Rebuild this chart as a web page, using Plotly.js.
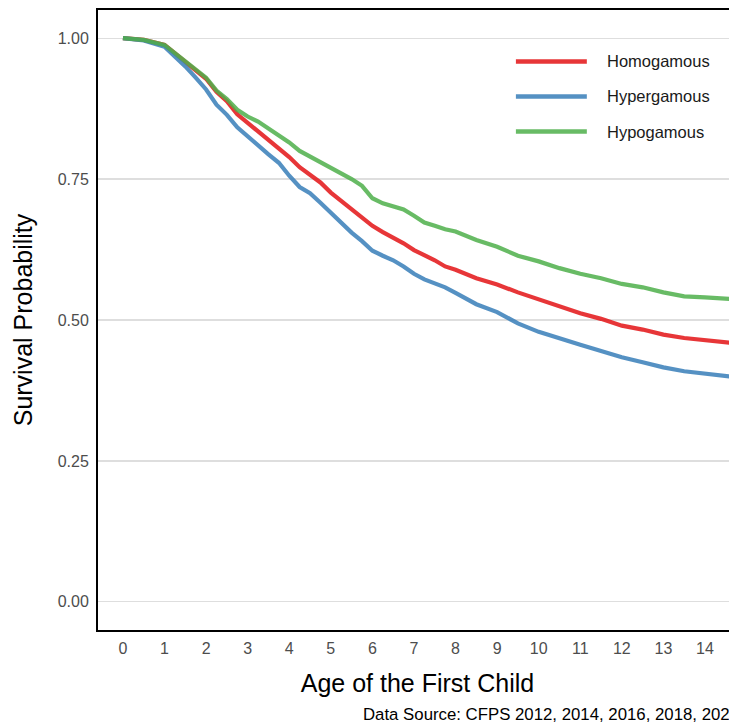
<!DOCTYPE html>
<html>
<head>
<meta charset="utf-8">
<script src="https://cdn.plot.ly/plotly-3.0.1.min.js"></script>
<style>
html,body{margin:0;padding:0;overflow:hidden;background:#fff;}
#chart{width:750px;height:725px;}
</style>
</head>
<body>
<div id="chart"></div>
<script>
var years = [0, 0.5, 1, 1.25, 1.5, 1.75, 2, 2.25, 2.5, 2.75, 3, 3.25, 3.5, 3.75, 4, 4.25, 4.5, 4.75, 5, 5.25, 5.5, 5.75, 6, 6.25, 6.5, 6.75, 7, 7.25, 7.5, 7.75, 8, 8.5, 9, 9.5, 10, 10.5, 11, 11.5, 12, 12.5, 13, 13.5, 14, 14.7];

var seriesNames = ["Homogamous", "Hypergamous", "Hypogamous"];

var homogamous = [1.000, 0.997, 0.988, 0.973, 0.958, 0.942, 0.928, 0.905, 0.888, 0.865, 0.850, 0.835, 0.820, 0.806, 0.789, 0.771, 0.758, 0.744, 0.726, 0.711, 0.697, 0.683, 0.667, 0.656, 0.647, 0.636, 0.624, 0.616, 0.606, 0.595, 0.589, 0.574, 0.563, 0.549, 0.537, 0.525, 0.512, 0.502, 0.490, 0.483, 0.474, 0.468, 0.464, 0.459];

var hypergamous = [1.000, 0.996, 0.985, 0.968, 0.950, 0.930, 0.909, 0.882, 0.864, 0.842, 0.826, 0.808, 0.794, 0.779, 0.756, 0.736, 0.725, 0.708, 0.690, 0.672, 0.655, 0.640, 0.623, 0.614, 0.606, 0.595, 0.582, 0.572, 0.565, 0.558, 0.548, 0.528, 0.514, 0.494, 0.479, 0.467, 0.456, 0.445, 0.434, 0.425, 0.416, 0.409, 0.405, 0.399];

var hypogamous = [1.000, 0.997, 0.988, 0.973, 0.960, 0.943, 0.930, 0.907, 0.892, 0.873, 0.861, 0.852, 0.840, 0.828, 0.815, 0.800, 0.790, 0.780, 0.772, 0.762, 0.750, 0.738, 0.716, 0.707, 0.701, 0.696, 0.685, 0.673, 0.667, 0.661, 0.657, 0.642, 0.630, 0.614, 0.604, 0.592, 0.582, 0.574, 0.564, 0.558, 0.549, 0.542, 0.540, 0.537];

var xTicks = [0,1,2,3,4,5,6,7,8,9,10,11,12,13,14];
var yTicks = [0, 0.25, 0.5, 0.75, 1.0];
var yTickLabels = ["0.00", "0.25", "0.50", "0.75", "1.00"];

var colors = ["rgba(228,26,28,0.88)", "rgba(55,126,184,0.85)", "rgba(77,175,74,0.85)"];
var seriesValues = [homogamous, hypergamous, hypogamous];

var font = "Liberation Sans, Arial, Helvetica, sans-serif";

var traces = seriesValues.map(function(v, i){
  return {
    x: years, y: v, type: "scatter", mode: "lines", name: seriesNames[i],
    line: {color: colors[i], width: 4.2, shape: "linear"},
    showlegend: false, hoverinfo: "skip"
  };
});

// manual legend (long key lines like ggplot)
var shapes = [];
var annotations = [];
var legendTop = 0.917, legendStep = 0.0565;
seriesNames.forEach(function(n, i){
  var yy = legendTop - i*legendStep;
  shapes.push({type:"line", xref:"paper", yref:"paper", x0:0.654, x1:0.765, y0:yy, y1:yy,
    line:{color:colors[i], width:4.5}});
  annotations.push({xref:"paper", yref:"paper", x:0.794, y:yy, xanchor:"left", yanchor:"middle",
    text:n, showarrow:false, font:{family:font, size:16.5, color:"#1a1a1a"}});
});

annotations.push({xref:"paper", yref:"paper", x:1.006, y:-0.136, xanchor:"right", yanchor:"middle",
  text:"Data Source: CFPS 2012, 2014, 2016, 2018, 2020", showarrow:false,
  font:{family:font, size:16.8, color:"#000"}});

var layout = {
  width: 750, height: 725,
  margin: {l: 98, r: 13, t: 10, b: 95},
  paper_bgcolor: "#fff", plot_bgcolor: "#fff",
  showlegend: false,
  font: {family: font},
  xaxis: {
    range: [-0.6, 14.77], tickvals: xTicks, ticktext: xTicks.map(String),
    showgrid: false, zeroline: false,
    showline: true, linecolor: "#000", linewidth: 2, mirror: true,
    ticks: "outside", ticklen: 3, tickcolor: "rgba(0,0,0,0)",
    tickfont: {family: font, size: 16, color: "#4d4d4d"},
    title: {text: "Age of the First Child", font: {family: font, size: 25, color: "#000"}, standoff: 18}
  },
  yaxis: {
    range: [-0.05, 1.05], tickvals: yTicks, ticktext: yTickLabels,
    showgrid: true, gridcolor: "#dedede", gridwidth: 1.3, zeroline: false,
    showline: true, linecolor: "#000", linewidth: 2, mirror: true,
    ticks: "outside", ticklen: 4, tickcolor: "rgba(0,0,0,0)",
    tickfont: {family: font, size: 16, color: "#4d4d4d"},
    title: {text: "Survival Probability", font: {family: font, size: 25, color: "#000"}, standoff: 18}
  },
  shapes: shapes,
  annotations: annotations
};

Plotly.newPlot("chart", traces, layout, {displayModeBar: false, staticPlot: true});
</script>
</body>
</html>
